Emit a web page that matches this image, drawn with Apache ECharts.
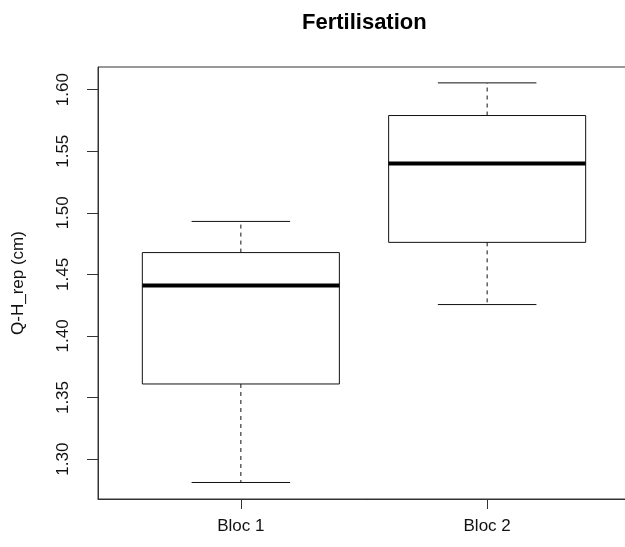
<!DOCTYPE html>
<html>
<head>
<meta charset="utf-8">
<script src="https://cdn.jsdelivr.net/npm/echarts@6/dist/echarts.min.js"></script>
<style>
html,body{margin:0;padding:0;background:#fff;}
#main{width:625px;height:547px;}
</style>
</head>
<body>
<div id="main"></div>
<script>
// boxplot stats
var categories = ['Bloc 1', 'Bloc 2'];
var lowWhisker = [1.281, 1.4255];
var q1 = [1.361, 1.476];
var median = [1.441, 1.540];
var q3 = [1.4677, 1.579];
var highWhisker = [1.493, 1.6055];
var yTicks = [1.30, 1.35, 1.40, 1.45, 1.50, 1.55, 1.60];
var xTicks = [1, 2];

var boxData = [];
for (var i = 0; i < categories.length; i++) {
    boxData.push([i + 1, lowWhisker[i], q1[i], median[i], q3[i], highWhisker[i]]);
}

var lineCol = '#111';

function renderBox(params, api) {
    var x = api.value(0);
    var pLow = api.coord([x, api.value(1)]);
    var pQ1 = api.coord([x, api.value(2)]);
    var pMed = api.coord([x, api.value(3)]);
    var pQ3 = api.coord([x, api.value(4)]);
    var pHigh = api.coord([x, api.value(5)]);
    var boxL = api.coord([x - 0.4, 0])[0];
    var boxR = api.coord([x + 0.4, 0])[0];
    var capL = api.coord([x - 0.2, 0])[0];
    var capR = api.coord([x + 0.2, 0])[0];
    var cx = pMed[0];
    var solid = { stroke: lineCol, lineWidth: 1, fill: null };
    var dashed = { stroke: lineCol, lineWidth: 1, lineDash: [4, 4] };
    return {
        type: 'group',
        children: [
            { type: 'line', shape: { x1: cx, y1: pQ3[1], x2: cx, y2: pHigh[1] }, style: dashed },
            { type: 'line', shape: { x1: cx, y1: pQ1[1], x2: cx, y2: pLow[1] }, style: dashed },
            { type: 'line', shape: { x1: capL, y1: pHigh[1], x2: capR, y2: pHigh[1] }, style: solid },
            { type: 'line', shape: { x1: capL, y1: pLow[1], x2: capR, y2: pLow[1] }, style: solid },
            { type: 'rect', shape: { x: boxL, y: pQ3[1], width: boxR - boxL, height: pQ1[1] - pQ3[1] },
              style: { stroke: lineCol, lineWidth: 1, fill: '#fff' } },
            { type: 'line', shape: { x1: boxL, y1: pMed[1], x2: boxR, y2: pMed[1] },
              style: { stroke: '#000', lineWidth: 4 } }
        ]
    };
}

var chart = echarts.init(document.getElementById('main'));
var option = {
    backgroundColor: '#fff',
    animation: false,
    title: {
        text: 'Fertilisation',
        left: 297,
        top: 7,
        textStyle: { fontFamily: 'Liberation Sans', fontWeight: 'bold', fontSize: 22, color: '#000' }
    },
    grid: {
        left: 98, top: 67, width: 532, height: 432,
        outerBoundsMode: 'none',
        containLabel: false,
        show: true, borderColor: '#333', borderWidth: 1, backgroundColor: 'transparent'
    },
    xAxis: {
        type: 'value',
        min: 0.42, max: 2.58,
        splitLine: { show: false },
        axisLine: { show: true, lineStyle: { color: '#333' } },
        axisTick: { show: true, length: 10, customValues: xTicks, lineStyle: { color: '#333' } },
        axisLabel: {
            customValues: xTicks,
            margin: 19,
            fontFamily: 'Liberation Sans', fontSize: 17, color: '#111',
            formatter: function (v) { return categories[Math.round(v) - 1]; }
        }
    },
    yAxis: {
        type: 'value',
        min: 1.2676, max: 1.6184,
        name: 'Q-H_rep (cm)',
        nameLocation: 'middle',
        nameRotate: 90,
        nameGap: 71,
        nameTextStyle: { fontFamily: 'Liberation Sans', fontSize: 17, color: '#111' },
        splitLine: { show: false },
        axisLine: { show: true, lineStyle: { color: '#333' } },
        axisTick: { show: true, length: 11, customValues: yTicks, lineStyle: { color: '#333' } },
        axisLabel: {
            customValues: yTicks,
            rotate: 90,
            margin: 26,
            fontFamily: 'Liberation Sans', fontSize: 17, color: '#111',
            formatter: function (v) { return v.toFixed(2); }
        }
    },
    series: [{
        type: 'custom',
        renderItem: renderBox,
        encode: { x: 0, y: [1, 2, 3, 4, 5] },
        data: boxData,
        clip: false
    }]
};
chart.setOption(option);
</script>
</body>
</html>
